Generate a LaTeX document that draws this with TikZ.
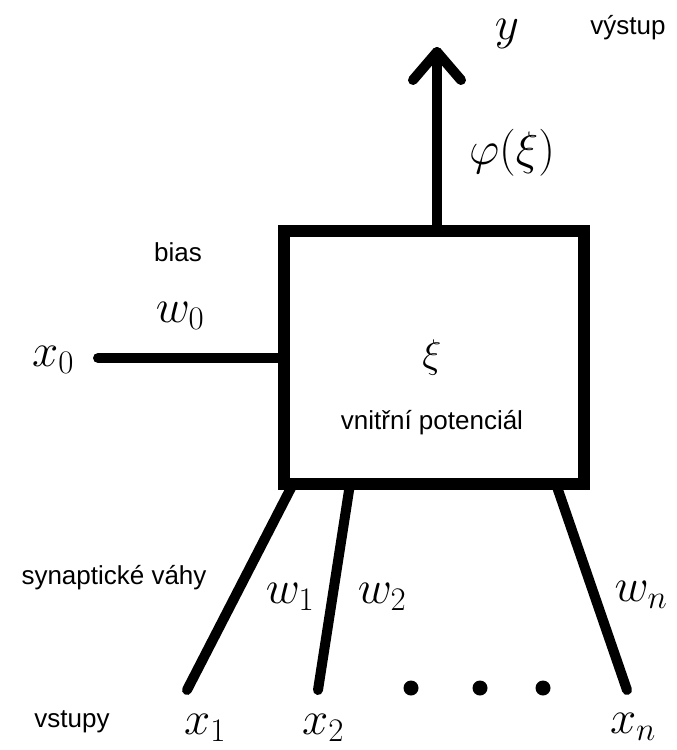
\RequirePackage{fix-cm}
\documentclass[tikz,border=0pt]{standalone}
\usepackage[no-math]{fontspec}
\newfontfamily\labfont{Liberation Sans}
\usetikzlibrary{calc}
\tikzset{
  stroke/.style={line width=10pt, line cap=round, line join=round},
  lab/.style={font=\labfont\fontsize{26}{30}\selectfont, inner sep=0pt},
  mth/.style={font=\fontsize{47}{52}\selectfont, inner sep=0pt},
  dot/.style={circle, fill=black, minimum size=15pt, inner sep=0pt},
}
\begin{document}
\begin{tikzpicture}[x=1pt, y=-1pt]
\useasboundingbox (0,0) rectangle (677,750);
% body
\node[draw, line width=12pt, minimum width=300pt, minimum height=253pt, inner sep=0pt] (box) at (434,357.5) {};
\node[mth, font=\fontsize{40}{44}\selectfont] (xi) at (432,357) {$\xi$};
\node[lab] (pot) at (432,423) {vnitřní potenciál};
% output
\coordinate (top) at (437,52);
\coordinate (out) at (437,231);
\draw[stroke] (out) -- (top);
\draw[stroke] (top) ++(-24,28) -- (top) -- ++(24,28);
\node[mth] (y) at (507,34) {$y$};
\node[lab] (vystup) at (628,28) {výstup};
\node[mth] (phi) at (512,153) {$\varphi(\xi)$};
% bias
\coordinate (x0end) at (98,358);
\draw[stroke] (x0end) -- (x0end -| box.west);
\node[mth] (x0) at (53,360) {$x_0$};
\node[mth] (w0) at (180,316) {$w_0$};
\node[lab] (bias) at (178,252) {bias};
% inputs
\coordinate (t1) at (293,484);
\coordinate (t2) at (350,484);
\coordinate (tn) at (556,484);
\coordinate (e1) at (187,690);
\coordinate (e2) at (318,690);
\coordinate (en) at (627,690);
\draw[stroke] (t1) -- (e1);
\draw[stroke] (t2) -- (e2);
\draw[stroke] (tn) -- (en);
\node[dot] (d1) at (411,688) {};
\node[dot] (d2) at (480,688) {};
\node[dot] (d3) at (543,688) {};
\node[mth] (w1) at (290,597) {$w_1$};
\node[mth] (w2) at (382,597) {$w_2$};
\node[mth] (wn) at (641,595) {$w_n$};
\node[mth] (x1) at (205,728) {$x_1$};
\node[mth] (x2) at (323,728) {$x_2$};
\node[mth] (xn) at (633,727) {$x_n$};
\node[lab] (syn) at (114,578) {synaptické váhy};
\node[lab] (vstupy) at (72,722) {vstupy};
\end{tikzpicture}
\end{document}
